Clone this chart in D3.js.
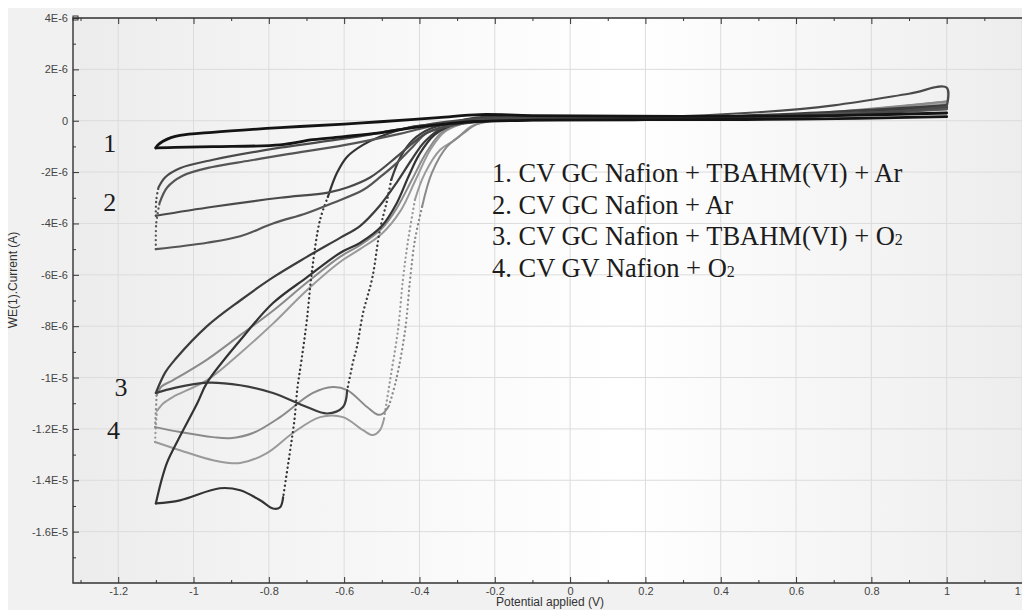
<!DOCTYPE html>
<html lang="en">
<head>
<meta charset="utf-8">
<title>CV curves</title>
<script src="https://d3js.org/d3.v7.min.js"></script>
<style>
    body { margin: 0; background: #ffffff; }
    svg { display: block; font-family: "Liberation Sans", Arial, sans-serif; }
    .tick text { font-size: 11px; fill: #444; }
    .tick line { stroke: #333; }
    .grid line { stroke: #dcdcdc; stroke-width: 1px; }
    .frame { stroke: #333; stroke-width: 1.4px; fill: none; }
    .curve { fill: none; stroke-linejoin: round; stroke-linecap: round; }
    .serif { font-family: "Liberation Serif", "Times New Roman", serif; fill: #1c1c1c; }
    .axis-title { font-size: 12px; fill: #333; }
</style>
</head>
<body>
<svg id="chart" width="1022" height="610"></svg>
<script>
// ticks
const xTicks = [-1.2, -1, -0.8, -0.6, -0.4, -0.2, 0, 0.2, 0.4, 0.6, 0.8, 1, 1.2];
const xMinor = [-1.3, -1.1, -0.9, -0.7, -0.5, -0.3, -0.1, 0.1, 0.3, 0.5, 0.7, 0.9, 1.1];
const yTicks = [4, 2, 0, -2, -4, -6, -8, -10, -12, -14, -16];   // in 1E-6 A
const yMinor = [3, 1, -1, -3, -5, -7, -9, -11, -13, -15, -17];

const legendLines = [
    ["1. CV GC Nafion + TBAHM(VI) + Ar", ""],
    ["2. CV GC Nafion + Ar", ""],
    ["3. CV GC Nafion + TBAHM(VI) + O", "2"],
    ["4. CV GV Nafion + O", "2"]
];
const curveLabels = [["1", -1.24, -1.2], ["2", -1.24, -3.5], ["3", -1.21, -10.7], ["4", -1.23, -12.4]];

// curve data: [potential V, current 1E-6 A]
// curve 1
const c1Cathodic = [[1.0,0.16],[0.6,0.06],[0.2,0.04],[-0.1,0.02],[-0.25,-0.03],[-0.327,-0.12],[-0.417,-0.27],[-0.505,-0.47],[-0.6,-0.62],[-0.683,-0.74],[-0.77,-0.94],[-0.948,-1.01],[-1.05,-1.04],[-1.1,-1.06]];
const c1Anodic = [[-1.1,-1.06],[-1.095,-0.95],[-1.081,-0.8],[-1.06,-0.66],[-1.036,-0.57],[-0.95,-0.45],[-0.77,-0.27],[-0.6,-0.13],[-0.505,-0.04],[-0.35,0.12],[-0.239,0.24],[-0.1,0.2],[0.3,0.17],[0.7,0.2],[1.0,0.3]];

// curve 2 (two cycles)
const c2aCathodic = [[1.0,0.55],[0.8,0.3],[0.5,0.14],[0.1,0.08],[-0.2,0.02],[-0.3,-0.12],[-0.38,-0.47],[-0.417,-0.86],[-0.46,-1.4],[-0.53,-2.2],[-0.592,-2.6],[-0.643,-2.8],[-0.77,-3.0],[-0.948,-3.35],[-1.1,-3.7]];
const c2aVertex = [[-1.1,-3.7],[-1.099,-3.1],[-1.093,-2.6]];
const c2aAnodic = [[-1.093,-2.6],[-1.075,-2.2],[-1.036,-1.85],[-0.948,-1.52],[-0.77,-1.05],[-0.6,-0.7],[-0.45,-0.33],[-0.33,-0.04],[-0.2,0.12],[0.2,0.14],[0.5,0.33],[0.7,0.6],[0.9,1.05],[1.0,1.29],[1.0,0.55]];
const c2bCathodic = [[1.0,0.45],[0.6,0.14],[0.1,0.06],[-0.2,0.0],[-0.3,-0.15],[-0.38,-0.47],[-0.417,-1.0],[-0.46,-1.64],[-0.505,-2.2],[-0.55,-2.7],[-0.63,-3.2],[-0.7,-3.6],[-0.789,-4.0],[-0.876,-4.5],[-0.964,-4.75],[-1.1,-5.0]];
const c2bVertex = [[-1.1,-5.0],[-1.099,-4.0],[-1.09,-3.2]];
const c2bAnodic = [[-1.09,-3.2],[-1.07,-2.6],[-1.03,-2.15],[-0.95,-1.8],[-0.85,-1.55],[-0.75,-1.3],[-0.6,-0.95],[-0.45,-0.5],[-0.35,-0.15],[-0.2,0.08],[0.2,0.12],[0.6,0.22],[1.0,0.45]];

// curve 3 (two cycles)
const c3aCathodic = [[1.0,0.6],[0.6,0.18],[0.1,0.06],[-0.2,0.01],[-0.3,-0.08],[-0.37,-0.3],[-0.417,-0.74],[-0.45,-1.4],[-0.475,-2.3]];
const c3aDrop = [[-0.475,-2.3],[-0.486,-3.1],[-0.505,-4.25],[-0.525,-6.1],[-0.55,-7.5],[-0.566,-8.8],[-0.575,-9.3],[-0.592,-10.5]];
const c3aValley = [[-0.592,-10.5],[-0.603,-11.15],[-0.645,-11.4],[-0.699,-11.15],[-0.789,-10.6],[-0.876,-10.3],[-0.964,-10.2],[-1.05,-10.4],[-1.1,-10.6]];
const c3aAnodic = [[-1.1,-10.6],[-1.075,-9.8],[-1.049,-9.3],[-0.964,-8.0],[-0.876,-7.0],[-0.789,-6.1],[-0.699,-5.3],[-0.611,-4.56],[-0.558,-4.1],[-0.505,-3.3],[-0.46,-2.4],[-0.42,-1.5],[-0.385,-0.8],[-0.33,-0.2],[-0.25,0.12],[0.2,0.1],[0.6,0.28],[1.0,0.6]];
const c3bCathodic = [[1.0,0.5],[0.6,0.14],[0.1,0.04],[-0.2,0.0],[-0.3,-0.1],[-0.417,-0.23],[-0.505,-0.62],[-0.55,-0.94],[-0.592,-1.4],[-0.619,-2.03],[-0.643,-2.96]];
const c3bDrop = [[-0.643,-2.96],[-0.664,-3.86],[-0.685,-5.8],[-0.699,-7.76],[-0.713,-9.3],[-0.724,-10.4],[-0.732,-11.65],[-0.745,-13.0],[-0.762,-14.66]];
const c3bValley = [[-0.762,-14.66],[-0.77,-15.05],[-0.789,-15.1],[-0.823,-14.78],[-0.876,-14.39],[-0.93,-14.31],[-1.036,-14.78],[-1.1,-14.9]];
const c3bAnodic = [[-1.1,-14.9],[-1.085,-14.0],[-1.07,-13.3],[-1.04,-12.4],[-0.99,-11.0],[-0.964,-10.2],[-0.876,-8.55],[-0.789,-7.1],[-0.699,-6.1],[-0.611,-5.15],[-0.558,-4.76],[-0.5,-4.1],[-0.46,-3.2],[-0.43,-2.2],[-0.4,-1.3],[-0.36,-0.55],[-0.3,-0.12],[-0.2,0.04],[0.2,0.08],[0.6,0.2],[1.0,0.5]];

// curve 4 (two cycles)
const c4aCathodic = [[1.0,0.75],[0.6,0.22],[0.1,0.08],[-0.2,0.02],[-0.25,-0.15],[-0.284,-0.5],[-0.327,-1.01],[-0.367,-2.03],[-0.393,-3.35]];
const c4aDrop = [[-0.393,-3.35],[-0.412,-4.64],[-0.425,-6.2],[-0.438,-8.15],[-0.462,-10.1],[-0.481,-11.1]];
const c4aValley = [[-0.481,-11.1],[-0.497,-11.4],[-0.51,-11.45],[-0.539,-11.15],[-0.592,-10.49],[-0.63,-10.37],[-0.683,-10.6],[-0.77,-11.54],[-0.842,-12.16],[-0.903,-12.36],[-0.948,-12.32],[-1.036,-12.12],[-1.102,-11.93]];
const c4aVertex = [[-1.102,-11.93],[-1.1,-11.3],[-1.098,-10.7]];
const c4aAnodic = [[-1.098,-10.7],[-1.085,-10.35],[-1.054,-10.1],[-0.964,-9.3],[-0.876,-8.35],[-0.789,-7.4],[-0.699,-6.3],[-0.611,-5.3],[-0.558,-4.85],[-0.5,-4.2],[-0.46,-3.4],[-0.42,-2.3],[-0.38,-1.2],[-0.34,-0.45],[-0.28,-0.08],[-0.2,0.04],[0.2,0.1],[0.6,0.25],[1.0,0.75]];
const c4bCathodic = [[1.0,0.65],[0.6,0.2],[0.1,0.06],[-0.2,0.0],[-0.26,-0.2],[-0.305,-0.74],[-0.345,-1.13],[-0.385,-2.03],[-0.412,-3.08]];
const c4bDrop = [[-0.412,-3.08],[-0.43,-4.64],[-0.444,-6.2],[-0.457,-8.15],[-0.478,-10.1],[-0.494,-11.6]];
const c4bValley = [[-0.494,-11.6],[-0.505,-12.05],[-0.523,-12.24],[-0.55,-12.05],[-0.603,-11.54],[-0.664,-11.54],[-0.736,-12.16],[-0.805,-12.94],[-0.876,-13.33],[-0.948,-13.22],[-1.036,-12.83],[-1.102,-12.51]];
const c4bVertex = [[-1.102,-12.51],[-1.1,-11.9],[-1.097,-11.3]];
const c4bAnodic = [[-1.097,-11.3],[-1.08,-11.0],[-1.054,-10.75],[-0.964,-10.1],[-0.876,-9.05],[-0.789,-7.9],[-0.699,-6.6],[-0.611,-5.5],[-0.558,-5.0],[-0.5,-4.4],[-0.45,-3.5],[-0.41,-2.3],[-0.37,-1.1],[-0.33,-0.4],[-0.27,-0.06],[-0.2,0.03],[0.2,0.1],[0.6,0.22],[1.0,0.65]];

// drawing order, bottom first; second item marks the fast (dotted) parts
const series = [
    { color: "#9a9a9a", width: 2, parts: [[c4bCathodic, 0], [c4bDrop, 1], [c4bValley, 0], [c4bVertex, 1], [c4bAnodic, 0]] },
    { color: "#8a8a8a", width: 2, parts: [[c4aCathodic, 0], [c4aDrop, 1], [c4aValley, 0], [c4aVertex, 1], [c4aAnodic, 0]] },
    { color: "#3c3c3c", width: 2.2, parts: [[c3aCathodic, 0], [c3aDrop, 1], [c3aValley, 0], [c3aAnodic, 0]] },
    { color: "#333333", width: 2.2, parts: [[c3bCathodic, 0], [c3bDrop, 1], [c3bValley, 0], [c3bAnodic, 0]] },
    { color: "#555555", width: 2.2, parts: [[c2bCathodic, 0], [c2bVertex, 1], [c2bAnodic, 0]] },
    { color: "#4a4a4a", width: 2.2, parts: [[c2aCathodic, 0], [c2aVertex, 1], [c2aAnodic, 0]] },
    { color: "#141414", width: 2.8, parts: [[c1Cathodic, 0], [c1Anodic, 0]] }
];

const W = 1022, H = 610;
const plotLeft = 73, plotTop = 18, plotBottom = 583;

const x = d3.scaleLinear().domain([-1.32, 1.2]).range([plotLeft, W]);
const y = d3.scaleLinear().domain([-18, 4]).range([plotBottom, plotTop]);

const svg = d3.select('#chart');
const defs = svg.append('defs');

const grad = defs.append('linearGradient').attr('id', 'bg').attr('x1', 0).attr('x2', 1).attr('y1', 0).attr('y2', 0);
grad.append('stop').attr('offset', '0%').attr('stop-color', '#ececec');
grad.append('stop').attr('offset', '40%').attr('stop-color', '#fafafa');
grad.append('stop').attr('offset', '58%').attr('stop-color', '#ffffff');
grad.append('stop').attr('offset', '100%').attr('stop-color', '#ededed');

defs.append('clipPath').attr('id', 'plot')
    .append('rect').attr('x', plotLeft).attr('y', plotTop).attr('width', W - plotLeft).attr('height', plotBottom - plotTop);

// page and plot background
svg.append('rect').attr('x', 8).attr('y', 8).attr('width', W - 8).attr('height', H - 8).attr('fill', '#f1f1f1');
svg.append('rect').attr('x', plotLeft).attr('y', plotTop).attr('width', W - plotLeft).attr('height', plotBottom - plotTop).attr('fill', 'url(#bg)');

// grid
const grid = svg.append('g').attr('class', 'grid');
grid.selectAll('.gx').data(xTicks).enter().append('line')
    .attr('x1', d => x(d)).attr('x2', d => x(d)).attr('y1', plotTop).attr('y2', plotBottom);
grid.selectAll('.gy').data(yTicks).enter().append('line')
    .attr('x1', plotLeft).attr('x2', W).attr('y1', d => y(d)).attr('y2', d => y(d));

// axes
const fmtY = d => d === 0 ? "0" : (d / 1e6).toExponential().toUpperCase();

const gx = svg.append('g').attr('transform', `translate(0,${plotBottom})`)
    .call(d3.axisBottom(x).tickValues(xTicks).tickSizeInner(-6).tickSizeOuter(0).tickPadding(4).tickFormat(d => String(d)));
const gxm = svg.append('g').attr('transform', `translate(0,${plotBottom})`)
    .call(d3.axisBottom(x).tickValues(xMinor).tickSizeInner(-3).tickSizeOuter(0).tickFormat(''));
const gt = svg.append('g').attr('transform', `translate(0,${plotTop})`)
    .call(d3.axisTop(x).tickValues(xTicks).tickSizeInner(-6).tickSizeOuter(0).tickFormat(''));
const gtm = svg.append('g').attr('transform', `translate(0,${plotTop})`)
    .call(d3.axisTop(x).tickValues(xMinor).tickSizeInner(-3).tickSizeOuter(0).tickFormat(''));
const gy = svg.append('g').attr('transform', `translate(${plotLeft},0)`)
    .call(d3.axisLeft(y).tickValues(yTicks).tickSizeInner(-6).tickSizeOuter(0).tickPadding(5).tickFormat(fmtY));
const gym = svg.append('g').attr('transform', `translate(${plotLeft},0)`)
    .call(d3.axisLeft(y).tickValues(yMinor).tickSizeInner(-3).tickSizeOuter(0).tickFormat(''));
[gx, gxm, gt, gtm, gy, gym].forEach(g => g.select('.domain').remove());
gx.selectAll('text').attr('fill', '#444');
gy.selectAll('text').attr('fill', '#444');

// frame
svg.append('path').attr('class', 'frame')
    .attr('d', `M${W},${plotTop}H${plotLeft}V${plotBottom}H${W}`);
svg.append('rect').attr('x', plotLeft).attr('y', plotTop - 2).attr('width', 5).attr('height', 4)
    .attr('fill', 'none').attr('stroke', '#333').attr('stroke-width', 1);

// curves
const line = d3.line().x(d => x(d[0])).y(d => y(d[1])).curve(d3.curveCatmullRom.alpha(0.5));
const plot = svg.append('g').attr('clip-path', 'url(#plot)');
series.forEach(s => {
    s.parts.forEach(([pts, dotted]) => {
        plot.append('path').attr('class', 'curve')
            .attr('d', line(pts))
            .attr('stroke', s.color)
            .attr('stroke-width', dotted ? 2.3 : s.width)
            .attr('stroke-dasharray', dotted ? '0.1 4.4' : null);
    });
});

// curve numbers
svg.selectAll('.num').data(curveLabels).enter().append('text')
    .attr('class', 'serif')
    .attr('x', d => x(d[1])).attr('y', d => y(d[2]))
    .attr('font-size', 26)
    .text(d => d[0]);

// legend
legendLines.forEach((l, i) => {
    const t = svg.append('text').attr('class', 'serif').attr('font-size', 26.5)
        .attr('x', 492).attr('y', 182 + i * 31.5);
    t.append('tspan').text(l[0]);
    if (l[1]) t.append('tspan').attr('font-size', 16).text(l[1]);
});

// axis titles
svg.append('text').attr('class', 'axis-title')
    .attr('x', 550).attr('y', 606).attr('text-anchor', 'middle')
    .text('Potential applied (V)');
svg.append('text').attr('class', 'axis-title')
    .attr('transform', 'translate(17,280) rotate(-90)').attr('text-anchor', 'middle')
    .text('WE(1).Current (A)');
</script>
</body>
</html>
